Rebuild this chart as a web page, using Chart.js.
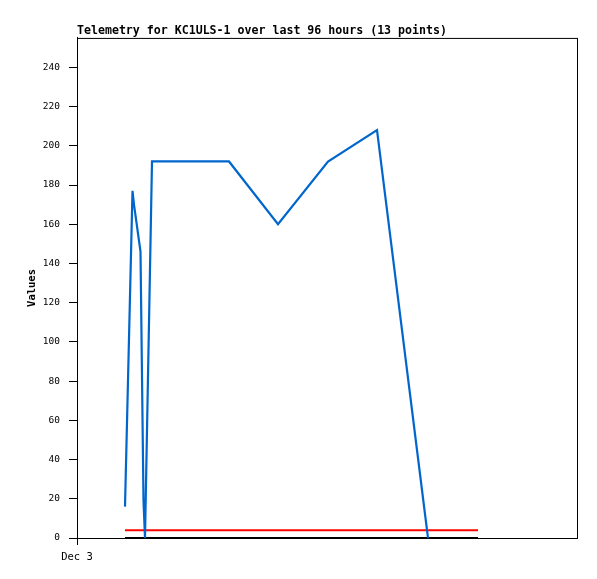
<!DOCTYPE html>
<html>
<head>
<meta charset="utf-8">
<script src="https://cdn.jsdelivr.net/npm/chart.js@4/dist/chart.umd.min.js"></script>
<style>
  html, body { margin: 0; padding: 0; background: #ffffff; }
  #wrap { width: 597px; height: 579px; }
</style>
</head>
<body>
<div id="wrap"><canvas id="c" width="597" height="579"></canvas></div>
<script>
// Data (x in hours from the left edge of the axis, which is labelled "Dec 3")
const telemetryHours  = [9.6, 11.1, 11.4, 12.7, 13.3, 13.6, 15.0, 30.4, 40.2, 50.2, 60.0, 70.2];
const telemetryValues = [16, 177, 170, 146, 19, 0, 192, 192, 160, 192, 208, 0];
const limitHours  = [9.6, 80.2];
const redValues   = [4, 4];
const blackValues = [0, 0];
const yTickValues = [0, 20, 40, 60, 80, 100, 120, 140, 160, 180, 200, 220, 240];
const xTickValues = [0];
const xTickLabels = ["Dec 3"];
const titleText = "Telemetry for KC1ULS-1 over last 96 hours (13 points)";
const yAxisTitle = "Values";

const toPts = (xs, ys) => xs.map((x, i) => ({ x: x, y: ys[i] }));

const frame = {
  id: 'frame',
  afterDraw(chart) {
    const a = chart.chartArea, ctx = chart.ctx;
    ctx.save();
    ctx.strokeStyle = '#000';
    ctx.lineWidth = 1;
    ctx.strokeRect(a.left + 0.5, a.top + 0.5, a.right - a.left, a.bottom - a.top);
    ctx.restore();
  }
};

new Chart(document.getElementById('c'), {
  type: 'line',
  data: {
    datasets: [
      { data: toPts(telemetryHours, telemetryValues), borderColor: '#0066cc', borderWidth: 2.2, pointRadius: 0, tension: 0, fill: false, clip: false },
      { data: toPts(limitHours, redValues), borderColor: '#ff0000', borderWidth: 2, pointRadius: 0, fill: false, clip: false },
      { data: toPts(limitHours, blackValues), borderColor: '#000000', borderWidth: 2, pointRadius: 0, fill: false, clip: false }
    ]
  },
  options: {
    responsive: false,
    animation: false,
    devicePixelRatio: 1,
    layout: { padding: { left: 0, right: 20, top: 0, bottom: 0 } },
    plugins: {
      legend: { display: false },
      tooltip: { enabled: false },
      title: {
        display: true,
        text: titleText,
        align: 'start',
        fullSize: false,
        color: '#000',
        font: { family: 'DejaVu Sans Mono', size: 11.6, weight: 'bold', lineHeight: 1.2 },
        padding: { top: 24, bottom: 0 }
      }
    },
    scales: {
      x: {
        type: 'linear',
        min: 0,
        max: 100,
        afterBuildTicks: s => { s.ticks = xTickValues.map(v => ({ value: v })); },
        afterFit: s => { s.height = 41; },
        grid: { display: true, drawOnChartArea: false, drawTicks: true, tickLength: 7, color: '#000' },
        border: { display: true, color: '#000', width: 1 },
        ticks: {
          color: '#000',
          padding: 6,
          maxRotation: 0,
          autoSkip: false,
          font: { family: 'DejaVu Sans Mono', size: 10.5 },
          callback: (v) => { const i = xTickValues.indexOf(v); return i >= 0 ? xTickLabels[i] : ''; }
        }
      },
      y: {
        type: 'linear',
        min: 0,
        max: 255,
        afterBuildTicks: s => { s.ticks = yTickValues.map(v => ({ value: v })); },
        afterFit: s => { s.width = 77; },
        grid: { display: true, drawOnChartArea: false, drawTicks: true, tickLength: 8, color: '#000' },
        border: { display: true, color: '#000', width: 1 },
        title: {
          display: true,
          text: yAxisTitle,
          color: '#000',
          font: { family: 'DejaVu Sans Mono', size: 10.5, weight: 'bold', lineHeight: 1.2 },
          padding: { top: 26, bottom: 0 }
        },
        ticks: {
          color: '#000',
          padding: 9,
          autoSkip: false,
          font: { family: 'DejaVu Sans Mono', size: 9.5 }
        }
      }
    }
  },
  plugins: [frame]
});
</script>
</body>
</html>
